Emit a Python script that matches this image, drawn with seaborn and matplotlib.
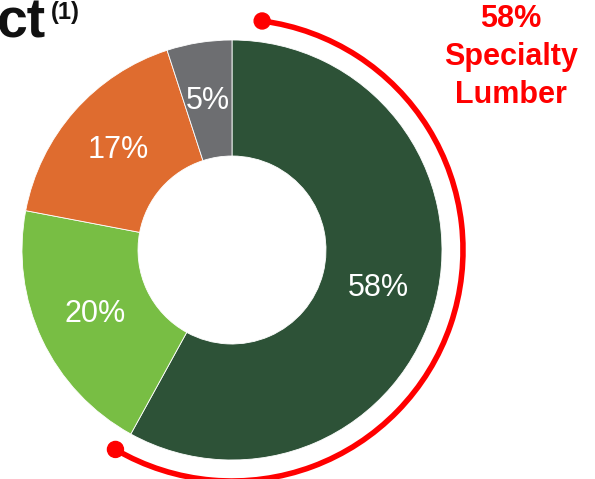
import numpy as np
import seaborn as sns
import matplotlib.pyplot as plt
from matplotlib.patches import Arc, Circle

# data
segments = ["Specialty Lumber", "Segment B", "Segment C", "Segment D"]
shares = [58, 20, 17, 5]
colors = ["#2D5237", "#78BE44", "#DF6C2F", "#6D6E71"]
callout = "58%\nSpecialty\nLumber"

sns.set_theme(style="white")
plt.rcParams['font.family'] = ['Liberation Sans', 'DejaVu Sans']

W, H = 595, 479
fig = plt.figure(figsize=(W / 100, H / 100), dpi=100)
ax = fig.add_axes([0, 0, 1, 1])

# pixel coords from the top-left, y flipped for the axes
cx, cy, r = 232, H - 250, 210
wedges, texts, autotexts = ax.pie(
    shares, colors=colors, startangle=90, counterclock=False,
    center=(cx, cy), radius=r, autopct=lambda p: f"{p:.0f}%",
    pctdistance=0.72, wedgeprops=dict(width=116, edgecolor="white", linewidth=0.6),
    textprops=dict(color="white", fontsize=22),
)

# red bracket arc around the first segment
frac = shares[0] / sum(shares)
start_cw = 7.5
end_cw = 360 * frac + 1.5
ar = 231
ax.add_patch(Arc((cx, cy), 2 * ar, 2 * ar, theta1=90 - end_cw, theta2=90 - start_cw,
                 color="#FF0000", lw=4))
for a in (start_cw, end_cw):
    t = np.deg2rad(90 - a)
    ax.add_patch(Circle((cx + ar * np.cos(t), cy + ar * np.sin(t)), 8, color="#FF0000"))

ax.text(511, H - 57, callout, color="#FF0000", fontsize=22, fontweight="bold",
        ha="center", va="center", linespacing=1.36)

ax.text(-3, H - 37, "ct", color="#111111", fontsize=40, fontweight="bold", ha="left", va="baseline")
ax.text(51, H - 19, "(1)", color="#111111", fontsize=17, fontweight="bold", ha="left", va="baseline")

ax.set_xlim(0, W)
ax.set_ylim(0, H)
ax.set_aspect("equal")
ax.axis("off")

fig.savefig("out.png", dpi=100)
